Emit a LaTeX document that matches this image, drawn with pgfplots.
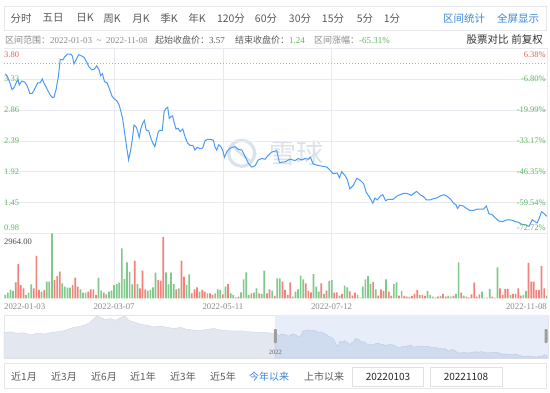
\documentclass[border=0pt]{standalone}
\usepackage{pgfplots}
\pgfplotsset{compat=1.18}
\usepackage{pgfplotstable}
\usepackage{fontspec}
\setmainfont{Liberation Serif}
\newfontfamily\cjk{Noto Sans CJK SC}
\definecolor{lineblue}{HTML}{4C9BF5}
\definecolor{upred}{HTML}{E85D57}
\definecolor{dngreen}{HTML}{5DB562}
\definecolor{barred}{HTML}{F2837C}
\definecolor{bargreen}{HTML}{80C98A}
\definecolor{gridc}{HTML}{E8EAEF}
\definecolor{boxc}{HTML}{E4E6EA}
\definecolor{tooltext}{HTML}{5A5A5A}
\definecolor{linkblue}{HTML}{3B87D9}
\definecolor{infogray}{HTML}{8A8A8A}
\definecolor{wm}{HTML}{DCE2EA}
\definecolor{navsel}{HTML}{E8EEF9}
\definecolor{navfillL}{HTML}{E3E8F0}
\definecolor{navlineL}{HTML}{D3DAE5}
\definecolor{navfillR}{HTML}{CFDBEE}
\definecolor{navlineR}{HTML}{BFCDE4}

\pgfplotstableread{
i p
0 3.41
0.8 3.37
1.8 3.27
2.6 3.17
3.4 3.20
4.4 3.29
4.9 3.32
5.4 3.24
6.4 3.30
7.6 3.28
8.5 3.22
9.5 3.11
10.4 3.11
11.5 3.19
12.5 3.27
13.4 3.27
14.3 3.33
14.9 3.27
16.0 3.19
17.3 3.09
18.1 3.05
18.8 3.05
19.6 3.17
20.5 3.37
21.2 3.63
22.2 3.62
23.0 3.67
24.1 3.71
25.3 3.71
25.9 3.68
26.5 3.56
27.3 3.62
28.3 3.70
29.5 3.68
30.4 3.66
31.4 3.59
32.4 3.51
33.4 3.47
34.4 3.48
35.3 3.53
36.2 3.47
36.8 3.38
37.5 3.41
38.3 3.29
39.3 3.27
40.2 3.18
41.2 3.07
42.0 3.03
43.0 3.00
43.9 2.94
44.6 2.84
45.3 2.73
46.1 2.50
46.9 2.28
47.6 2.10
48.4 2.25
49.0 2.40
49.7 2.63
50.5 2.60
51.0 2.55
51.7 2.44
52.3 2.57
53.1 2.66
53.7 2.70
54.4 2.55
55.4 2.54
56.1 2.44
56.9 2.36
57.7 2.30
58.5 2.43
59.1 2.53
59.7 2.55
60.6 2.55
61.3 2.83
62.0 2.88
62.7 2.90
63.3 2.73
64.0 2.76
64.6 2.77
65.1 2.68
65.9 2.57
66.7 2.58
67.5 2.53
68.5 2.57
69.4 2.45
70.3 2.36
71.3 2.32
72.4 2.32
73.2 2.25
74.1 2.29
75.2 2.27
76.2 2.28
77.1 2.39
78.0 2.41
79.3 2.41
80.3 2.40
81.0 2.29
81.6 2.25
82.4 2.33
83.2 2.30
83.9 2.25
84.6 2.14
85.5 2.22
86.3 2.26
87.4 2.29
88.7 2.30
90.0 2.26
91.3 2.25
92.6 2.15
93.8 2.05
95.1 1.99
96.4 2.01
97.7 2.10
99.0 2.12
100.3 2.11
101.5 2.17
102.9 2.22
104.8 2.24
105.8 2.06
108.0 2.07
109.9 2.11
111.9 2.09
113.1 2.12
114.4 2.10
115.7 2.12
117.0 2.11
117.8 2.14
118.8 2.04
120.2 2.02
121.5 2.01
122.8 2.00
124.2 1.99
125.4 1.94
126.6 1.89
128.1 1.90
129.0 1.83
129.9 1.92
131.2 1.86
132.1 1.79
133.0 1.66
134.3 1.71
135.7 1.82
137.0 1.79
138.3 1.74
139.3 1.61
140.5 1.54
141.9 1.44
142.7 1.52
143.6 1.49
144.8 1.55
145.7 1.57
146.8 1.48
147.9 1.50
149.7 1.50
151.2 1.55
152.4 1.57
153.7 1.59
155.1 1.59
156.7 1.56
158.0 1.60
158.8 1.62
160.1 1.57
161.5 1.54
162.6 1.49
164.0 1.49
165.3 1.51
166.5 1.52
167.9 1.55
169.3 1.57
170.4 1.55
171.7 1.51
173.1 1.44
173.9 1.42
174.6 1.36
175.4 1.41
176.7 1.40
178.1 1.36
179.4 1.33
180.7 1.33
182.1 1.35
183.7 1.35
184.6 1.35
185.7 1.40
186.7 1.28
187.8 1.27
189.1 1.22
190.5 1.17
192.0 1.16
193.0 1.18
194.2 1.19
195.9 1.18
196.8 1.16
198.1 1.15
199.4 1.12
200.9 1.11
202.2 1.09
203.4 1.19
204.5 1.16
205.3 1.14
206.1 1.21
207.0 1.31
207.8 1.29
208.8 1.25
209.4 1.24
}\pricetab

\pgfplotstableread{
i v
4 730
5 1566
6 608
7 456
11 456
12 1946
13 380
15 380
19 836
20 1018
21 1216
26 608
27 942
28 532
32 304
33 410
34 410
35 152
38 258
50 1718
52 456
53 1262
54 410
59 836
60 806
61 2812
66 410
68 1718
69 988
72 228
73 410
74 502
76 380
77 304
79 228
80 152
84 182
86 654
89 46
90 76
95 228
98 228
101 228
102 410
104 106
107 760
108 380
109 152
110 730
116 684
117 334
118 274
122 684
124 350
127 258
128 274
130 198
133 319
134 122
135 258
142 760
144 122
145 410
146 334
148 304
149 106
152 122
154 106
155 76
156 61
157 106
158 198
159 380
161 152
162 106
166 30
167 76
169 198
170 76
173 106
176 258
178 76
179 30
180 182
181 714
182 76
183 182
186 30
188 76
189 30
191 456
192 152
193 426
194 426
196 198
197 198
198 456
199 122
202 1626
203 760
204 760
205 380
206 380
207 1474
208 456
}\voltabred

\pgfplotstableread{
i v
0 152
1 258
2 380
3 334
8 152
9 258
10 638
14 304
16 760
17 760
18 2964
22 684
23 532
24 486
25 486
29 410
30 258
31 258
36 942
37 350
39 182
40 304
41 350
42 608
43 654
44 714
45 2280
46 882
47 1642
48 1216
49 638
51 654
55 350
56 380
57 502
58 1170
62 1186
63 638
64 1170
65 654
67 456
70 608
71 1094
75 304
78 228
81 228
82 410
83 380
85 532
87 228
88 152
91 274
92 866
93 1186
94 152
96 258
97 456
99 198
100 1262
103 350
105 912
106 912
111 76
112 304
113 410
114 1034
115 866
119 1110
120 532
121 304
123 198
125 790
126 836
129 122
131 578
132 502
136 152
137 30
138 532
139 866
140 1018
141 654
143 410
147 866
150 654
151 730
153 334
160 152
163 334
164 152
165 76
168 106
171 106
172 76
174 198
175 1642
177 122
184 304
185 30
187 426
190 1414
195 152
200 152
201 334
209 122
}\voltabgreen

\pgfplotstableread{
i p
-209 3.44
-204 3.53
-199 3.38
-194 3.44
-188 3.22
-184 3.38
-178 3.32
-173 3.44
-168 3.53
-163 3.63
-158 3.85
-153 4.00
-147 4.16
-144 4.33
-141 4.64
-138 5.01
-135 4.95
-131 4.70
-127 4.80
-123 4.64
-119 4.89
-116 5.08
-113 4.64
-109 4.48
-104 4.26
-99 4.16
-94 4.00
-88 4.07
-83 3.95
-78 3.85
-73 3.95
-68 3.76
-63 3.69
-58 3.63
-53 3.76
-47 3.85
-42 3.69
-37 3.63
-32 3.60
-27 3.63
-22 3.53
-17 3.50
-12 3.44
-6 3.44
-0.5 3.38
}\navtab

\pgfplotsset{chartax/.style={scale only axis, width=544pt,
  xmin=-0.5, xmax=209.5,
  axis line style={draw=none}, tick style={draw=none},
  xticklabels={}, yticklabels={},
  major grid style={color=gridc, line width=0.6pt}}}

\begin{document}
\begin{tikzpicture}[x=1pt,y=1pt]
\fill[white] (0,0) rectangle (550,392);

% toolbar
\draw[boxc, line width=0.6pt] (4,361.3) rectangle (546,386);
\begin{scope}[every node/.style={font=\cjk\fontsize{10.5}{12}\selectfont, text=tooltext, inner sep=0pt}]
\node at (21,373.7) {分时};
\node at (53,373.7) {五日};
\node at (85,373.7) {日K};
\node at (112,373.7) {周K};
\node at (141,373.7) {月K};
\node at (169,373.7) {季K};
\node at (197,373.7) {年K};
\node at (231,373.7) {120分};
\node at (266,373.7) {60分};
\node at (300,373.7) {30分};
\node at (333,373.7) {15分};
\node at (365,373.7) {5分};
\node at (392,373.7) {1分};
\node[text=linkblue] at (464,373.7) {区间统计};
\node[text=linkblue] at (518,373.7) {全屏显示};
\end{scope}

% info row
\begin{scope}[every node/.style={font=\fontsize{9}{10}\selectfont, text=infogray, inner sep=0pt, anchor=west}]
\node at (5,351.5) {{\cjk 区间范围：}2022-01-03 \ \textasciitilde\ \ 2022-11-08};
\node at (155,351.5) {{\cjk\color{tooltext} 起始收盘价：}\textcolor{tooltext}{3.57}};
\node at (235,351.5) {{\cjk\color{tooltext} 结束收盘价：}\textcolor{dngreen}{1.24}};
\node at (314,351.5) {{\cjk 区间涨幅：}\textcolor{dngreen}{-65.31\%}};
\end{scope}
\node[font=\cjk\fontsize{10.5}{12}\selectfont, text=black!80, inner sep=0pt] at (487.5,352) {股票对比};
\node[font=\cjk\fontsize{10.5}{12}\selectfont, text=black!80, inner sep=0pt] at (527,352) {前复权};

% watermark
\draw[wm, line width=3.2pt] (241.7,238.7) circle (13);
\draw[wm, line width=2.6pt] (233,246) .. controls (240,238) and (244,236) .. (250,231);
\node[font=\cjk\fontsize{27}{30}\selectfont, text=wm, inner sep=0pt] at (296,238.7) {雪球};

% price panel
\begin{axis}[chartax, at={(4pt,158.5pt)}, anchor=south west, height=185.4pt,
  ymin=0.98, ymax=3.80,
  ytick={0.98,1.45,1.92,2.39,2.86,3.33,3.80}, xtick={42,84,126},
  grid=major]
\addplot[color=black!30, line width=0.6pt, dash pattern=on 1pt off 2pt] coordinates {(-0.5,3.57) (209.5,3.57)};
\addplot[color=lineblue, line width=1pt] table[x=i, y=p] {\pricetab};
\end{axis}

% volume panel
\begin{axis}[chartax, at={(4pt,93.7pt)}, anchor=south west, height=64.8pt,
  ymin=0, ymax=2964, ytick=\empty, xtick={42,84,126}, xmajorgrids]
\addplot[ybar, bar width=1.7pt, bar shift=0pt, fill=barred, draw=none] table[x=i, y=v] {\voltabred};
\addplot[ybar, bar width=1.7pt, bar shift=0pt, fill=bargreen, draw=none] table[x=i, y=v] {\voltabgreen};
\end{axis}
\draw[gridc, line width=0.6pt] (547,93.7) -- (547,344);

% price labels
\begin{scope}[every node/.style={font=\fontsize{8.5}{10}\selectfont, inner sep=0pt}]
\node[anchor=west, text=upred] at (4,337) {3.80};
\node[anchor=west, text=dngreen] at (4,313.0) {3.33};
\node[anchor=west, text=dngreen] at (4,282.1) {2.86};
\node[anchor=west, text=dngreen] at (4,251.2) {2.39};
\node[anchor=west, text=dngreen] at (4,220.3) {1.92};
\node[anchor=west, text=dngreen] at (4,189.4) {1.45};
\node[anchor=west, text=dngreen] at (4,164.5) {0.98};
\node[anchor=east, text=upred] at (546,337) {6.38\%};
\node[anchor=east, text=dngreen] at (546,313.0) {-6.80\%};
\node[anchor=east, text=dngreen] at (546,282.1) {-19.99\%};
\node[anchor=east, text=dngreen] at (546,251.2) {-33.17\%};
\node[anchor=east, text=dngreen] at (546,220.3) {-46.35\%};
\node[anchor=east, text=dngreen] at (546,189.4) {-59.54\%};
\node[anchor=east, text=dngreen] at (546,164.5) {-72.72\%};
\node[anchor=west, text=black!70] at (4,150) {2964.00};
\end{scope}

% date labels
\begin{scope}[every node/.style={font=\fontsize{8.8}{10}\selectfont, text=infogray, inner sep=0pt}]
\node[anchor=west] at (4,85) {2022-01-03};
\node at (114.1,85) {2022-03-07};
\node at (222.9,85) {2022-05-11};
\node at (331.6,85) {2022-07-12};
\node[anchor=east] at (547,85) {2022-11-08};
\end{scope}

% navigator
\draw[boxc, line width=0.6pt] (4,34) rectangle (548,77);
\begin{axis}[scale only axis, width=544pt, height=43pt, at={(4pt,34pt)}, anchor=south west,
  xmin=-209, xmax=210, ymin=1.0, ymax=5.15, axis line style={draw=none},
  xtick=\empty, ytick=\empty]
\fill[navsel] (axis cs:-0.5,1.0) rectangle (axis cs:210,5.15);
\addplot[fill=navfillL, draw=navlineL, line width=0.5pt] table[x=i, y=p] {\navtab} \closedcycle;
\addplot[fill=navfillR, draw=navlineR, line width=0.5pt] table[x=i, y=p] {\pricetab} \closedcycle;
\end{axis}
\fill[black!38, rounded corners=0.8pt] (273.8,49) rectangle (276.8,63);
\fill[black!38, rounded corners=0.8pt] (544.5,49) rectangle (547.5,63);
\node[font=\fontsize{6.5}{7}\selectfont, text=black!60, inner sep=0pt] at (275.3,39.5) {2022};

% bottom row
\draw[boxc, line width=0.6pt] (4,4) rectangle (546,29);
\begin{scope}[every node/.style={font=\cjk\fontsize{10}{12}\selectfont, text=tooltext, inner sep=0pt}]
\node at (24,15.3) {近1月};
\node at (64,15.3) {近3月};
\node at (104,15.3) {近6月};
\node at (143,15.3) {近1年};
\node at (183,15.3) {近3年};
\node at (223,15.3) {近5年};
\node[text=linkblue] at (269,15.3) {今年以来};
\node at (324,15.3) {上市以来};
\end{scope}
\draw[black!12, fill=white, line width=0.6pt] (352,6) rectangle (423,24.7);
\draw[black!12, fill=white, line width=0.6pt] (430,6) rectangle (502,24.7);
\node[font=\cjk\fontsize{10}{12}\selectfont, text=black!85, inner sep=0pt] at (388,15.3) {20220103};
\node[font=\cjk\fontsize{10}{12}\selectfont, text=black!85, inner sep=0pt] at (466,15.3) {20221108};

\pgfresetboundingbox
\path[use as bounding box] (0,0) rectangle (550,392);
\end{tikzpicture}
\end{document}
